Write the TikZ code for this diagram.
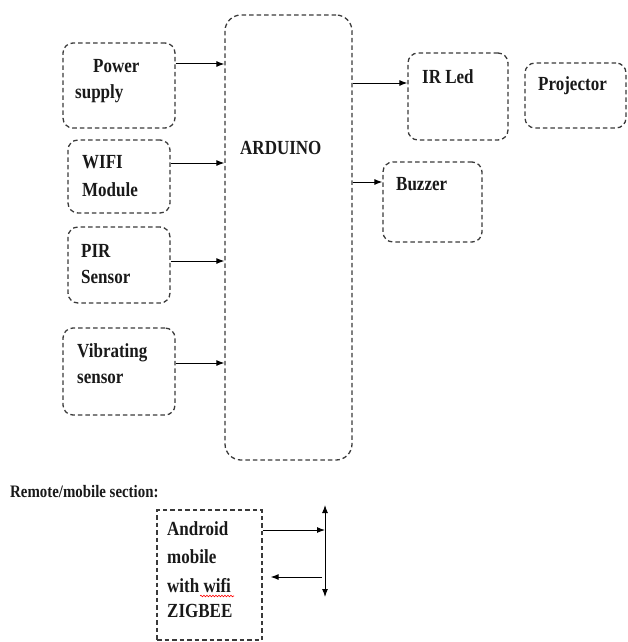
\documentclass[tikz,border=0pt]{standalone}
\usepackage{fontspec}
\setmainfont{Liberation Serif}[FakeStretch=0.85]
\usetikzlibrary{arrows.meta,decorations.pathmorphing}
\definecolor{boxline}{HTML}{3A3A3A}
\tikzset{
  blk/.style={draw=boxline, line width=1.3pt, dash pattern=on 4.5pt off 3pt, rounded corners=10pt, inner sep=0pt},
  sqblk/.style={draw=boxline, line width=1.3pt, dash pattern=on 4.5pt off 3pt, inner sep=0pt},
  lbl/.style={anchor=base west, inner sep=0pt, font=\fontsize{20}{22}\selectfont\bfseries, text=black!90},
  smlbl/.style={anchor=base west, inner sep=0pt, font=\fontsize{17.5}{20}\selectfont\bfseries, text=black!90},
  arr/.style={line width=1pt, -{Latex[length=8pt,width=6pt]}},
}
\begin{document}
\begin{tikzpicture}[x=1pt,y=-1pt]
\useasboundingbox (0,0) rectangle (628,642);
% boxes
\node[blk, minimum width=112pt, minimum height=85pt] (power) at (119,85.5) {};
\node[blk, minimum width=102pt, minimum height=73pt] (wifi) at (119,176.5) {};
\node[blk, minimum width=102pt, minimum height=76pt] (pir) at (119,265) {};
\node[blk, minimum width=112pt, minimum height=87pt] (vib) at (119,371.5) {};
\node[blk, rounded corners=16pt, minimum width=127pt, minimum height=445pt] (ard) at (288.5,237.5) {};
\node[blk, minimum width=100pt, minimum height=87pt] (irled) at (458,96.5) {};
\node[blk, minimum width=101pt, minimum height=65pt] (proj) at (575.5,95.5) {};
\node[blk, minimum width=99pt, minimum height=80pt] (buzz) at (432.5,202) {};
\node[sqblk, minimum width=105pt, minimum height=130pt] (andr) at (209.5,575) {};
% labels
\node[lbl] (tpower) at (93,72) {Power};
\node[lbl] (tsupply) at (75,98) {supply};
\node[lbl] (twifi) at (82,168) {WIFI};
\node[lbl] (tmodule) at (82,196) {Module};
\node[lbl] (tpir) at (81,257) {PIR};
\node[lbl] (tsensor) at (81,283) {Sensor};
\node[lbl] (tvib) at (77,357) {Vibrating};
\node[lbl] (tvsensor) at (77,383) {sensor};
\node[lbl] (tard) at (240,154) {ARDUINO};
\node[lbl] (tir) at (422,83) {IR Led};
\node[lbl] (tproj) at (538,90) {Projector};
\node[lbl] (tbuzz) at (396,190) {Buzzer};
\node[smlbl] (tremote) at (10,497) {Remote/mobile section:};
\node[lbl] (tandr) at (167,535) {Android};
\node[lbl] (tmob) at (167,563) {mobile};
\node[lbl] (twith) at (167,592) {with wifi};
\node[lbl] (tzig) at (167,617) {ZIGBEE};
\draw[red, line width=0.6pt, decorate, decoration={snake, amplitude=0.8pt, segment length=3pt}] (200,596) -- (234,596);
% connectors
\draw[arr] (power.east |- 0,64) -- (ard.west |- 0,64);
\draw[arr] (wifi.east |- 0,163) -- (ard.west |- 0,163);
\draw[arr] (pir.east |- 0,261) -- (ard.west |- 0,261);
\draw[arr] (vib.east |- 0,363) -- (ard.west |- 0,363);
\draw[arr] (ard.east |- 0,83) -- (irled.west |- 0,83);
\draw[arr] (ard.east |- 0,182) -- (buzz.west |- 0,182);
\coordinate (vtop) at (325,505);
\coordinate (vbot) at (325,597);
\draw[line width=1pt, {Latex[length=8pt,width=6pt]}-{Latex[length=8pt,width=6pt]}] (vtop) -- (vbot);
\draw[arr] (andr.east |- 0,530) -- (vtop |- 0,530);
\draw[arr] (322,577) -- ([xshift=8pt]andr.east |- 0,577);
\end{tikzpicture}
\end{document}
